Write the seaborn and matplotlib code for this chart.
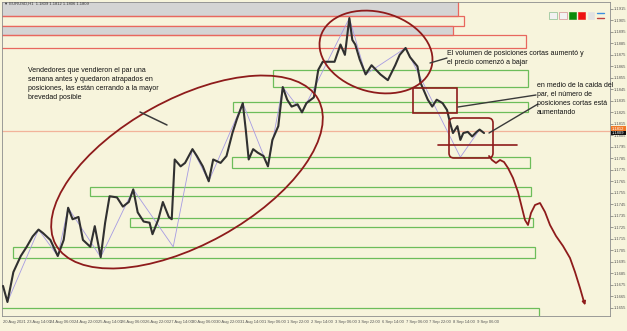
import matplotlib
matplotlib.use("Agg")
import matplotlib.pyplot as plt
import seaborn as sns
import pandas as pd
from matplotlib.patches import Rectangle, Ellipse, FancyBboxPatch

# ---------------- data ----------------
bar_index = [0, 3, 7, 12, 16, 20, 24, 27, 32, 37, 41, 44, 47, 51, 54, 59, 62, 66, 69, 72,
             77, 81, 85, 88, 91, 95, 99, 101, 105, 108, 112, 114, 116, 120, 123, 128, 131,
             135, 139, 142, 147, 151, 155, 158, 162, 164, 166, 169, 172, 176, 179, 182, 186,
             189, 192, 195, 199, 202, 205, 210, 213, 216, 220, 224, 228, 231, 234, 236, 238,
             241, 245, 249, 255, 260, 265, 268, 272, 275, 280, 282, 284, 287, 290, 293, 297,
             300, 302, 304, 307, 309, 311, 314, 317, 320, 322, 325]
close_price = [1.1674, 1.1660, 1.1686, 1.1700, 1.1708, 1.1717, 1.1723, 1.1720, 1.1714, 1.1700,
               1.1714, 1.1742, 1.1732, 1.1734, 1.1714, 1.1708, 1.1726, 1.1699, 1.1729, 1.1752,
               1.1751, 1.1743, 1.1747, 1.1758, 1.1738, 1.1730, 1.1729, 1.1719, 1.1732, 1.1747,
               1.1734, 1.1732, 1.1784, 1.1778, 1.1781, 1.1793, 1.1787, 1.1778, 1.1765, 1.1784,
               1.1781, 1.1787, 1.1807, 1.1819, 1.1833, 1.1810, 1.1784, 1.1793, 1.1790, 1.1787,
               1.1778, 1.1801, 1.1813, 1.1847, 1.1836, 1.1830, 1.1832, 1.1825, 1.1833, 1.1838,
               1.1862, 1.1869, 1.1869, 1.1869, 1.1884, 1.1875, 1.1907, 1.1888, 1.1884, 1.1871,
               1.1858, 1.1866, 1.1858, 1.1853, 1.1866, 1.1875, 1.1881, 1.1873, 1.1865, 1.1851,
               1.1845, 1.1836, 1.1830, 1.1836, 1.1833, 1.1827, 1.1816, 1.1807, 1.1813, 1.1801,
               1.1807, 1.1808, 1.1804, 1.1808, 1.1810, 1.1807]

zigzag_bar = [3, 24, 37, 44, 66, 88, 115, 128, 139, 162, 179, 189, 202, 234, 245, 272, 309, 322]
zigzag_price = [1.1660, 1.1723, 1.1700, 1.1742, 1.1699, 1.1758, 1.1708, 1.1793, 1.1765, 1.1833,
                1.1778, 1.1847, 1.1825, 1.1907, 1.1858, 1.1881, 1.1786, 1.1810]

red_zone_start = [-2, -2, -2, -2]
red_zone_end = [307.4, 311.5, 304.0, 353.4]
red_zone_low = [1.1909, 1.1900, 1.1892, 1.1881]
red_zone_high = [1.1925, 1.1909, 1.1900, 1.1892]
red_zone_filled = [True, False, True, False]

green_zone_start = [182.4, 155.4, 154.7, 58.8, 85.8, 6.8, -2]
green_zone_end = [354.7, 354.7, 356.1, 356.8, 358.1, 359.5, 362.2]
green_zone_low = [1.1847, 1.1825, 1.1777, 1.1752, 1.1725, 1.1698, 1.1630]
green_zone_high = [1.1862, 1.1834, 1.1786, 1.1760, 1.1733, 1.1708, 1.1655]

current_price = 1.1809
ask_price = 1.1812

x_tick_bars = [0, 16, 32, 48, 64, 80, 96, 112, 128, 144, 160, 176, 192, 208, 224, 240,
               256, 272, 288, 304, 320]
x_tick_labels = ["20 Aug 2021", "23 Aug 14:00", "24 Aug 06:00", "24 Aug 22:00", "25 Aug 14:00",
                 "26 Aug 06:00", "26 Aug 22:00", "27 Aug 14:00", "30 Aug 06:00", "30 Aug 22:00",
                 "31 Aug 14:00", "1 Sep 06:00", "1 Sep 22:00", "2 Sep 14:00", "3 Sep 06:00",
                 "3 Sep 22:00", "6 Sep 14:00", "7 Sep 06:00", "7 Sep 22:00", "8 Sep 14:00",
                 "9 Sep 06:00"]
y_tick_values = [1.1915, 1.1905, 1.1895, 1.1885, 1.1875, 1.1865, 1.1855, 1.1845, 1.1835,
                 1.1825, 1.1815, 1.1805, 1.1795, 1.1785, 1.1775, 1.1765, 1.1755, 1.1745,
                 1.1735, 1.1725, 1.1715, 1.1705, 1.1695, 1.1685, 1.1675, 1.1665, 1.1655]
y_tick_labels = ["%.4f" % v for v in y_tick_values]

header = "\u25bc EURUSD,H1  1.1809 1.1812 1.1806 1.1809"
note_left = ("Vendedores que vendieron el par una\nsemana antes y quedaron atrapados en\n"
             "posiciones, las están cerrando a la mayor\nbrevedad posible")
note_top = "El volumen de posiciones cortas aumentó y\nel precio comenzó a bajar"
note_right = "en medio de la caida del\npar, el número de\nposiciones cortas está\naumentando"

# ---------------- style ----------------
sns.set_theme(style="white")
FAM = ["Liberation Sans", "DejaVu Sans"]
plt.rcParams["font.family"] = FAM

BG = "#F7F4DC"
RED_EDGE = "#E8675E"
GRAY_FILL = "#D4D4D4"
GREEN = "#6DBD5A"
DARK_RED = "#8E1B1B"

fig = plt.figure(figsize=(6.27, 3.31), dpi=100, facecolor=BG)
ax = fig.add_axes([2 / 627, 15 / 331, 608 / 627, 314 / 331], facecolor=BG)

# zones
for x0, x1, lo, hi, filled in zip(red_zone_start, red_zone_end, red_zone_low,
                                   red_zone_high, red_zone_filled):
    ax.add_patch(Rectangle((x0, lo), x1 - x0, hi - lo,
                           facecolor=GRAY_FILL if filled else "none",
                           edgecolor=RED_EDGE, lw=0.9, zorder=1))
for x0, x1, lo, hi in zip(green_zone_start, green_zone_end, green_zone_low, green_zone_high):
    ax.add_patch(Rectangle((x0, lo), x1 - x0, hi - lo, facecolor="none",
                           edgecolor=GREEN, lw=0.9, zorder=1))

ax.axhline(current_price, color="#F2B39A", lw=0.9, zorder=2)

df = pd.DataFrame({"bar": bar_index, "price": close_price})
sns.lineplot(data=df, x="bar", y="price", color="#303030", lw=1.5, ax=ax, zorder=4)
zz = pd.DataFrame({"bar": zigzag_bar, "price": zigzag_price})
sns.lineplot(data=zz, x="bar", y="price", color="#A69BE3", lw=0.6, ax=ax, zorder=3)

ax.set_xlim(-0.68, 410.1)
ax.set_ylim(1.1921 - 314 * 0.000087, 1.1921)
ax.set_xlabel("")
ax.set_ylabel("")
ax.set_xticks(x_tick_bars)
ax.set_xticklabels(x_tick_labels, ha="left")
ax.yaxis.tick_right()
ax.set_yticks(y_tick_values)
ax.set_yticklabels(y_tick_labels)
ax.tick_params(axis="x", labelsize=3, colors="#555555", length=2, width=0.4, pad=1.0)
ax.tick_params(axis="y", labelsize=3, colors="#555555", length=2, width=0.4, pad=1.0,
               right=True, left=False)
for lab in ax.get_xticklabels() + ax.get_yticklabels():
    lab.set_family(FAM)
for sp in ax.spines.values():
    sp.set_color("#8C8C8C")
    sp.set_linewidth(0.6)

# ---------------- hand-drawn annotation layer (pixel coordinates) ----------------
ov = fig.add_axes([0, 0, 1, 1], facecolor="none")
ov.set_xlim(0, 627)
ov.set_ylim(331, 0)
ov.axis("off")

ov.text(4, 4, header, fontsize=3, color="#333333", va="center", ha="left", family=FAM)

ov.add_patch(Ellipse((187, 172), 300, 145, angle=-29, fill=False, ec=DARK_RED, lw=1.3))
ov.add_patch(Ellipse((376, 52), 115, 80, angle=15, fill=False, ec=DARK_RED, lw=1.3))
ov.add_patch(Rectangle((413, 88), 44, 25, fill=False, ec=DARK_RED, lw=1.2))
ov.add_patch(FancyBboxPatch((451, 120), 40, 36, boxstyle="round,pad=2,rounding_size=5",
                            fill=False, ec=DARK_RED, lw=1.2))
ov.plot([438, 517], [145, 145], color=DARK_RED, lw=1.2)
curve_x = [489, 492, 496, 500, 504, 508, 513, 518, 522, 525, 528, 531, 535, 540, 545,
           550, 556, 563, 570, 575, 580, 584]
curve_y = [156, 160, 163, 160, 162, 168, 178, 192, 208, 220, 225, 213, 205, 203, 212,
           225, 236, 246, 258, 272, 288, 302]
ov.plot(curve_x, curve_y, color=DARK_RED, lw=1.3)
ov.annotate("", xy=(586, 308), xytext=(583, 298),
            arrowprops=dict(arrowstyle="-|>", color=DARK_RED, lw=1.2, mutation_scale=5))

# pointer strokes
ov.plot([140, 167], [112, 125], color="#3A3A3A", lw=1.1)
ov.plot([447, 430], [58, 63], color="#3A3A3A", lw=1.0)
ov.plot([536, 458], [95, 107], color="#3A3A3A", lw=1.0)
ov.plot([538, 489], [104, 133], color="#3A3A3A", lw=1.0)

# notes
ov.text(28, 67, note_left, fontsize=5, va="top", ha="left", linespacing=1.4,
        color="#111111", family=FAM)
ov.text(447, 50, note_top, fontsize=5, va="top", ha="left", linespacing=1.45,
        color="#111111", family=FAM)
ov.text(537, 82, note_right, fontsize=5, va="top", ha="left", linespacing=1.4,
        color="#111111", family=FAM)

# toolbar icons top right
ov.add_patch(Rectangle((549, 12), 8, 7, fc="#F2F2F2", ec="#9CC79C", lw=0.6))
ov.add_patch(Rectangle((559, 12), 8, 7, fc="#F2F2F2", ec="#D9A0A0", lw=0.6))
ov.add_patch(Rectangle((569, 12), 7, 7, fc="#0B8A0B", ec="#0B8A0B", lw=0.4))
ov.add_patch(Rectangle((578, 12), 7, 7, fc="#EE1111", ec="#EE1111", lw=0.4))
ov.add_patch(Rectangle((588, 12), 6, 7, fc="#E2E2E2", ec="#E2E2E2", lw=0.4))
ov.plot([597, 604], [13, 13], color="#3C8FE0", lw=1.0)
ov.plot([597, 604], [17.5, 17.5], color="#C04040", lw=1.0)

# price boxes on the scale
ov.add_patch(Rectangle((611, 126.3), 15, 4.5, fc="#F07A2A", ec="none"))
ov.add_patch(Rectangle((611, 130.8), 15, 4.5, fc="#111111", ec="none"))
ov.text(612, 128.6, "%.4f" % ask_price, fontsize=3, color="white", va="center", family=FAM)
ov.text(612, 133.1, "%.4f" % current_price, fontsize=3, color="white", va="center", family=FAM)

fig.savefig("out.png", dpi=100, facecolor=BG)
